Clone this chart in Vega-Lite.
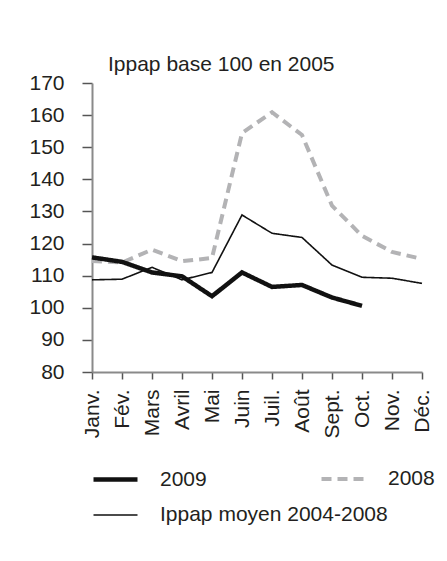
{
  "$schema": "https://vega.github.io/schema/vega-lite/v6.json",
  "width": 330,
  "height": 289,
  "padding": {"left": 28, "top": 54, "right": 5, "bottom": 5},
  "autosize": {"type": "pad"},
  "background": "white",
  "title": {"text": "Ippap base 100 en 2005", "anchor": "start", "frame": "group", "dx": 16, "fontSize": 21, "fontWeight": "normal", "font": "Liberation Sans", "color": "#231f20", "offset": -3},
  "data": {"values": [
    {"mois": "Janv.", "serie": "2008", "v": 114.6},
    {"mois": "Fév.", "serie": "2008", "v": 114.1},
    {"mois": "Mars", "serie": "2008", "v": 118.1},
    {"mois": "Avril", "serie": "2008", "v": 114.5},
    {"mois": "Mai", "serie": "2008", "v": 115.5},
    {"mois": "Juin", "serie": "2008", "v": 154.4},
    {"mois": "Juil.", "serie": "2008", "v": 160.9},
    {"mois": "Août", "serie": "2008", "v": 153.8},
    {"mois": "Sept.", "serie": "2008", "v": 131.8},
    {"mois": "Oct.", "serie": "2008", "v": 122.4},
    {"mois": "Nov.", "serie": "2008", "v": 117.4},
    {"mois": "Déc.", "serie": "2008", "v": 115.2},
    {"mois": "Janv.", "serie": "2009", "v": 115.7},
    {"mois": "Fév.", "serie": "2009", "v": 114.3},
    {"mois": "Mars", "serie": "2009", "v": 111.0},
    {"mois": "Avril", "serie": "2009", "v": 109.8},
    {"mois": "Mai", "serie": "2009", "v": 103.6},
    {"mois": "Juin", "serie": "2009", "v": 111.0},
    {"mois": "Juil.", "serie": "2009", "v": 106.5},
    {"mois": "Août", "serie": "2009", "v": 107.1},
    {"mois": "Sept.", "serie": "2009", "v": 103.2},
    {"mois": "Oct.", "serie": "2009", "v": 100.6},
    {"mois": "Janv.", "serie": "Ippap moyen 2004-2008", "v": 108.7},
    {"mois": "Fév.", "serie": "Ippap moyen 2004-2008", "v": 108.9},
    {"mois": "Mars", "serie": "Ippap moyen 2004-2008", "v": 112.6},
    {"mois": "Avril", "serie": "Ippap moyen 2004-2008", "v": 108.7},
    {"mois": "Mai", "serie": "Ippap moyen 2004-2008", "v": 111.0},
    {"mois": "Juin", "serie": "Ippap moyen 2004-2008", "v": 128.9},
    {"mois": "Juil.", "serie": "Ippap moyen 2004-2008", "v": 123.2},
    {"mois": "Août", "serie": "Ippap moyen 2004-2008", "v": 121.9},
    {"mois": "Sept.", "serie": "Ippap moyen 2004-2008", "v": 113.3},
    {"mois": "Oct.", "serie": "Ippap moyen 2004-2008", "v": 109.5},
    {"mois": "Nov.", "serie": "Ippap moyen 2004-2008", "v": 109.2},
    {"mois": "Déc.", "serie": "Ippap moyen 2004-2008", "v": 107.6}
  ]},
  "mark": {"type": "line", "strokeCap": "butt", "strokeJoin": "miter"},
  "encoding": {
    "x": {
      "field": "mois", "type": "ordinal",
      "sort": ["Janv.", "Fév.", "Mars", "Avril", "Mai", "Juin", "Juil.", "Août", "Sept.", "Oct.", "Nov.", "Déc."],
      "scale": {"type": "point", "padding": 0},
      "axis": {"title": null, "labelAngle": -90, "labelAlign": "right", "labelBaseline": "middle", "tickSize": 7, "labelPadding": 10, "domainColor": "#8a8a8a", "domainWidth": 2, "tickColor": "#555555", "tickWidth": 1.5, "grid": false}
    },
    "y": {
      "field": "v", "type": "quantitative",
      "scale": {"domain": [80, 170], "nice": false, "zero": false},
      "axis": {"title": null, "values": [80, 90, 100, 110, 120, 130, 140, 150, 160, 170], "tickSize": 10, "labelPadding": 18, "domainColor": "#8a8a8a", "domainWidth": 2, "tickColor": "#555555", "tickWidth": 1.5, "grid": false}
    },
    "color": {
      "field": "serie", "type": "nominal",
      "scale": {"domain": ["2009", "2008", "Ippap moyen 2004-2008"], "range": ["#111111", "#b3b3b5", "#111111"]},
      "legend": {"title": null}
    },
    "strokeWidth": {
      "field": "serie", "type": "nominal",
      "scale": {"type": "ordinal", "domain": ["2009", "2008", "Ippap moyen 2004-2008"], "range": [4.5, 4, 1.6]},
      "legend": {"title": null}
    },
    "strokeDash": {
      "field": "serie", "type": "nominal",
      "scale": {"domain": ["2009", "2008", "Ippap moyen 2004-2008"], "range": [[1, 0], [10, 6], [1, 0]]},
      "legend": {"title": null}
    }
  },
  "config": {
    "font": "Liberation Sans",
    "view": {"stroke": null},
    "axis": {"labelFont": "Liberation Sans", "labelFontSize": 21, "labelColor": "#231f20"},
    "legend": {
      "orient": "none", "legendX": -1, "legendY": 372, "direction": "horizontal", "columns": 2, "gridAlign": "none",
      "columnPadding": -75, "rowPadding": 2,
      "symbolType": "stroke", "symbolSize": 1936, "labelFontSize": 21, "labelFont": "Liberation Sans", "labelColor": "#231f20", "labelOffset": 20, "labelLimit": 400
    }
  }
}
